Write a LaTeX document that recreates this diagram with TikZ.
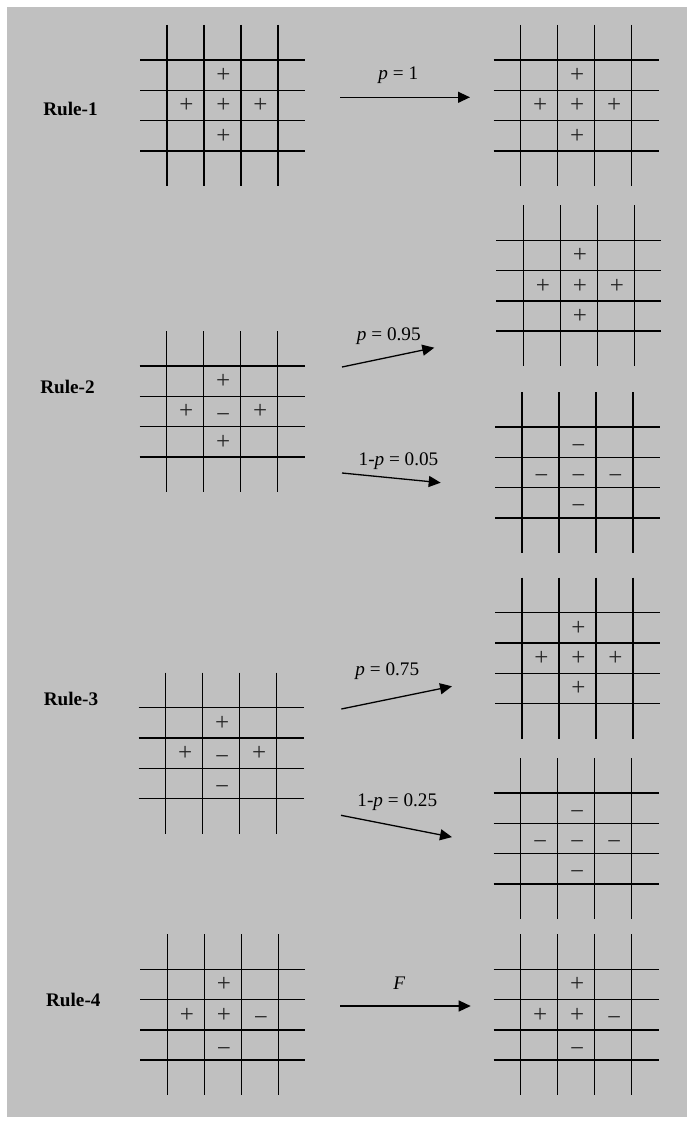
\documentclass[tikz,border=0pt]{standalone}
\usepackage{fontspec}
\setmainfont{Liberation Serif}
\usetikzlibrary{arrows.meta}
\tikzset{
  gridline/.style={line width=1.5pt, draw=black},
  plusS/.style={font=\fontsize{25}{25}\selectfont, inner sep=0pt, anchor=base, text=black!85},
  minusS/.style={plusS, yshift=-3.5pt},
  arr/.style={line width=1.3pt, draw=black, -{Triangle[length=12pt,width=11pt]}},
  lab/.style={font=\fontsize{19.2}{20}\selectfont, inner sep=0pt, anchor=base},
  rulelab/.style={font=\fontsize{19.2}{20}\selectfont\bfseries, inner sep=0pt, anchor=base},
}
\expandafter\def\csname symplusS\endcsname{+}
\expandafter\def\csname symminusS\endcsname{−}
\newcommand\lattice[3]{%
  \foreach \k in {0,1,2,3}{%
    \draw[gridline] ({#2-27},{#3+\k*30.3}) -- ++(165,0);
    \draw[gridline] ({#2+\k*37},{#3-35}) -- ++(0,161);
  }%
  \coordinate (#1) at ({#2+55.5},{#3+45.5});%
}
\newcommand\sg[6]{\node[#6] (#1) at ({#2+37*#4+19.5},{#3+30.3*#5+15.15+7.5}) {\csname sym#6\endcsname};}
\newcommand\cross[8]{%
  \sg{#1t}{#2}{#3}{1}{0}{#4}%
  \sg{#1l}{#2}{#3}{0}{1}{#5}%
  \sg{#1c}{#2}{#3}{1}{1}{#6}%
  \sg{#1r}{#2}{#3}{2}{1}{#7}%
  \sg{#1b}{#2}{#3}{1}{2}{#8}%
}
\begin{document}
\begin{tikzpicture}[x=1pt,y=-1pt]
\useasboundingbox (0,0) rectangle (693,1124);
\fill[white] (0,0) rectangle (693,1124);
\fill[fill={rgb,255:red,192;green,192;blue,192}] (7,7) rectangle (687,1117);

% Rule 1
\node[rulelab] (r1) at (70.5,115) {Rule-1};
\lattice{g1l}{167}{60}
\cross{g1lp}{167}{60}{plusS}{plusS}{plusS}{plusS}{plusS}
\lattice{g1r}{520.7}{60}
\cross{g1rp}{520.7}{60}{plusS}{plusS}{plusS}{plusS}{plusS}
\coordinate (a1s) at (340,97.3);
\coordinate (a1e) at (470,97.3);
\draw[arr] (a1s) -- (a1e);
\node[lab] (l1) at (398.3,80) {\textit{p} = 1};

% Rule 2
\node[rulelab] (r2) at (67.5,393.3) {Rule-2};
\lattice{g2l}{166.7}{366}
\cross{g2lp}{166.7}{366}{plusS}{plusS}{minusS}{plusS}{plusS}
\lattice{g2ru}{523.3}{240.3}
\cross{g2rup}{523.3}{240.3}{plusS}{plusS}{plusS}{plusS}{plusS}
\lattice{g2rl}{522}{427}
\cross{g2rlp}{522}{427}{minusS}{minusS}{minusS}{minusS}{minusS}
\coordinate (a2us) at (342,367);
\coordinate (a2ue) at (434.3,347.7);
\draw[arr] (a2us) -- (a2ue);
\node[lab] (l2u) at (388.8,340.5) {\textit{p} = 0.95};
\coordinate (a2ls) at (342,473);
\coordinate (a2le) at (440.7,482.7);
\draw[arr] (a2ls) -- (a2le);
\node[lab] (l2l) at (398.5,465) {1-\textit{p} = 0.05};

% Rule 3
\node[rulelab] (r3) at (71,705) {Rule-3};
\lattice{g3l}{165.7}{707.7}
\cross{g3lp}{165.7}{707.7}{plusS}{plusS}{minusS}{plusS}{minusS}
\lattice{g3ru}{522}{612.7}
\cross{g3rup}{522}{612.7}{plusS}{plusS}{plusS}{plusS}{plusS}
\lattice{g3rl}{520.7}{793}
\cross{g3rlp}{520.7}{793}{minusS}{minusS}{minusS}{minusS}{minusS}
\coordinate (a3us) at (341.3,709);
\coordinate (a3ue) at (452,686.3);
\draw[arr] (a3us) -- (a3ue);
\node[lab] (l3u) at (387.3,675.5) {\textit{p} = 0.75};
\coordinate (a3ls) at (341,815.3);
\coordinate (a3le) at (452,837.1);
\draw[arr] (a3ls) -- (a3le);
\node[lab] (l3l) at (397.3,806.5) {1-\textit{p} = 0.25};

% Rule 4
\node[rulelab] (r4) at (73.3,1006) {Rule-4};
\lattice{g4l}{167.3}{969.3}
\cross{g4lp}{167.3}{969.3}{plusS}{plusS}{plusS}{minusS}{minusS}
\lattice{g4r}{520.7}{969.3}
\cross{g4rp}{520.7}{969.3}{plusS}{plusS}{plusS}{minusS}{minusS}
\coordinate (a4s) at (340,1006);
\coordinate (a4e) at (470.7,1006);
\draw[arr] (a4s) -- (a4e);
\node[lab] (l4) at (399.3,989.3) {\textit{F}};
\end{tikzpicture}
\end{document}
